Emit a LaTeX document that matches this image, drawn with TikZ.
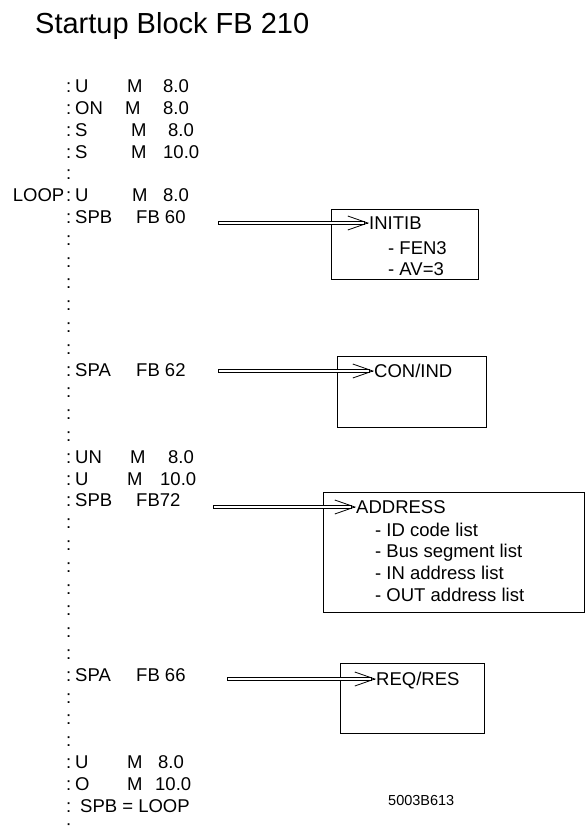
\documentclass[tikz,border=0pt]{standalone}
\usepackage{fontspec}
\setmainfont{Liberation Sans}
\usepackage{xcolor}
\usepackage{tikz}
\usetikzlibrary{arrows.meta, positioning}
\tikzset{
  stl/.style={font=\fontsize{18.5}{22}\selectfont, inner sep=0pt, text height=13.2pt, text depth=0pt, anchor=west},
  fbbox/.style={draw, line width=0.8pt, anchor=north west, inner sep=0pt},
  shaft/.style={draw, fill=white, line width=0.7pt},
  chev/.style={line width=0.8pt, -{Straight Barb[length=20pt, width=14pt]}},
}
\newcommand{\callarrow}[2]{%
  \draw[shaft] ([yshift=1.8pt]#1) rectangle ([xshift=-5pt, yshift=-1.8pt]#2);
  \draw[chev] ([xshift=-1pt]#2) -- (#2);}

\begin{document}
\begin{tikzpicture}[x=1pt, y=-1pt]
    \useasboundingbox (0,0) rectangle (586,830);
    % Title
    \node[font=\fontsize{29}{34}\selectfont, anchor=base west, inner sep=0pt] (title) at (35,33) {Startup Block FB 210};
    % Statement list
    \foreach \k in {0,...,34}
      \node[stl] (colon\k) at (66,{86+21.8*\k}) {:};
    \node[stl, anchor=east] (loop) at (64.5,{86+21.8*5}) {LOOP};
    \foreach \k/\op/\ax/\vx/\val in {0/U/127/163/8.0, 1/ON/125/163/8.0, 2/S/131/168/8.0, 3/S/131/163/10.0, 5/U/132/163/8.0, 17/UN/130/168/8.0, 18/U/127/160/10.0, 31/U/127/158/8.0, 32/O/127/155/10.0} {
      \node[stl] (op\k) at (75,{86+21.8*\k}) {\op};
      \node[stl] (arg\k) at (\ax,{86+21.8*\k}) {M};
      \node[stl] (val\k) at (\vx,{86+21.8*\k}) {\val};
    }
    \foreach \k/\op/\fb in {6/SPB/FB 60, 13/SPA/FB 62, 19/SPB/FB72, 27/SPA/FB 66} {
      \node[stl] (op\k) at (75,{86+21.8*\k}) {\op};
      \node[stl] (arg\k) at (136,{86+21.8*\k}) {\fb};
    }
    \node[stl] (op33) at (80,{86+21.8*33}) {SPB = LOOP};
    % Called blocks
    \node[fbbox, minimum width=147pt, minimum height=70pt] (initibbox) at (331,209) {};
    \node[fbbox, minimum width=149pt, minimum height=71pt] (conindbox) at (337,356) {};
    \node[fbbox, minimum width=261pt, minimum height=120pt] (addressbox) at (323,492) {};
    \node[fbbox, minimum width=144pt, minimum height=70pt] (reqresbox) at (340,663) {};
    \node[stl] (initib) at (369,223) {INITIB};
    \node[stl] (fen) at (388,248) {- FEN3};
    \node[stl] (av) at (388,269) {- AV=3};
    \node[stl] (conind) at (374,371) {CON/IND};
    \node[stl] (address) at (356,507) {ADDRESS};
    \foreach \y/\lbl [count=\i] in {530/ID code list, 551/Bus segment list, 573/IN address list, 595/OUT address list}
      \node[stl] (item\i) at (375,\y) {- \lbl};
    \node[stl] (reqres) at (376,679) {REQ/RES};
    % Call arrows
    \coordinate (s1) at (218,223);
    \coordinate (s2) at (218,371);
    \coordinate (s3) at (213,507);
    \coordinate (s4) at (227,679);
    \callarrow{s1}{initib.west}
    \callarrow{s2}{conind.west}
    \callarrow{s3}{address.west}
    \callarrow{s4}{reqres.west}
    % Drawing number
    \node[font=\fontsize{14.5}{17}\selectfont, anchor=base west, inner sep=0pt] (drawno) at (388,805) {5003B613};
\end{tikzpicture}
\end{document}
